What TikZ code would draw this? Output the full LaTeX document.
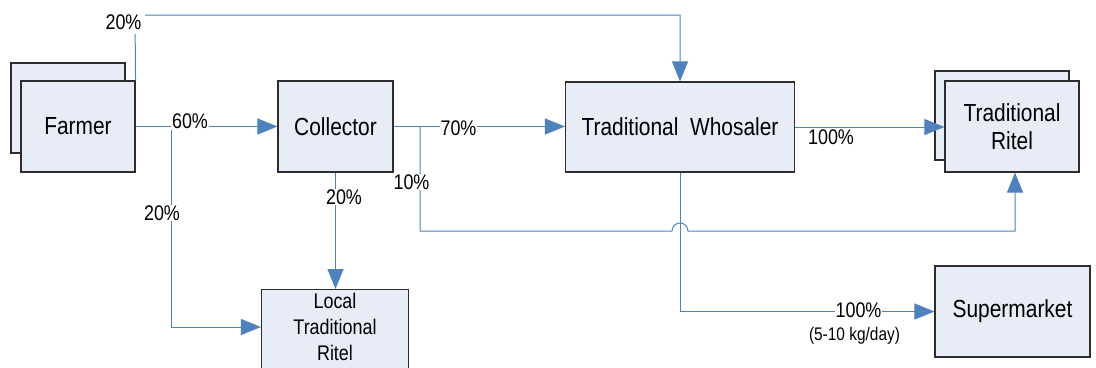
\documentclass[tikz,border=0pt]{standalone}
\usepackage{fontspec}
\setmainfont{Liberation Sans}
\usepackage{graphicx}
\usetikzlibrary{arrows.meta}
\definecolor{flow}{RGB}{79,129,189}
\definecolor{boxfill}{RGB}{231,236,247}
\definecolor{boxline}{RGB}{45,45,45}
\newcommand\vs[1]{\scalebox{1}[1.18]{#1}}
\begin{document}
\begin{tikzpicture}[x=1bp,y=-1bp,
 box/.style={draw=boxline, fill=boxfill, line width=1.1bp, inner sep=0pt, align=center, font=\fontsize{21}{28}\selectfont},
 flowline/.style={draw=flow, line width=1bp},
 arr/.style={flowline, -{Triangle[length=20bp,width=16bp]}},
 pct/.style={font=\fontsize{18}{20}\selectfont, fill=white, inner sep=1bp},
 small/.style={font=\fontsize{15.5}{18}\selectfont, inner sep=0pt}
 ]
\useasboundingbox (0,0) rectangle (1096,367);
% boxes
\node[box, minimum width=114bp, minimum height=90bp] (farmerback) at (68,108) {};
\node[box, minimum width=114bp, minimum height=91bp] (farmer) at (78,126.5) {\vs{Farmer}};
\node[box, minimum width=115bp, minimum height=91bp] (collector) at (335.5,126.5) {\vs{Collector}};
\node[box, minimum width=229bp, minimum height=90bp] (whos) at (680,127) {\vs{Traditional\ \ Whosaler}};
\node[box, minimum width=134bp, minimum height=89bp] (tradback) at (1002,115.5) {};
\node[box, minimum width=134bp, minimum height=91bp] (trad) at (1012,126.5) {\vs{Traditional}\\\vs{Ritel}};
\node[box, minimum width=147bp, minimum height=92bp, anchor=north] (local) at (335,289) {};
\node[align=center, font=\fontsize{18}{26}\selectfont, inner sep=0pt] (localtxt) at (335,327) {\vs{Local}\\\vs{Traditional}\\\vs{Ritel}};
\node[box, minimum width=155bp, minimum height=91bp] (super) at (1012.5,311.5) {\vs{Supermarket}};
% helper coordinates
\coordinate (topc) at (135,15);
\coordinate (b1) at (171,126.5);
\coordinate (b2) at (420,126.5);
\coordinate (c10) at (420,231);
\coordinate (jl) at (672,231);
\coordinate (tr) at (1015,231);
% connectors
\draw[arr] (farmer.north east) -- (topc) -| (whos.north);
\draw[arr] (farmer.east) -- (collector.west);
\draw[arr] (b1) |- (local.west |- localtxt.center);
\draw[arr] (collector.south) -- (collector.south |- local.north);
\draw[arr] (collector.east) -- (collector.east -| whos.west);
\draw[arr] (b2) -- (c10) -- (jl) arc[start angle=180, end angle=360, radius=8] -- (tr) -- (tr |- trad.south);
\draw[arr] (whos.east) -- (whos.east -| trad.west);
\draw[arr] (whos.south) |- (super.west);
% labels
\node[pct, inner sep=4bp] (p20a) at (123.5,22.5) {\vs{20\%}};
\node[pct] (p60) at (190,121.5) {\vs{60\%}};
\node[pct] (p20b) at (162,213) {\vs{20\%}};
\node[pct] (p20c) at (344,197) {\vs{20\%}};
\node[pct] (p70) at (458.5,128.5) {\vs{70\%}};
\node[pct] (p10) at (411.5,182) {\vs{10\%}};
\node[pct, fill=none] (p100a) at (831,137) {\vs{100\%}};
\node[pct] (p100b) at (858.5,310.5) {\vs{100\%}};
\node[small] (kg) at (854.5,336) {\vs{(5-10 kg/day)}};
\end{tikzpicture}
\end{document}
